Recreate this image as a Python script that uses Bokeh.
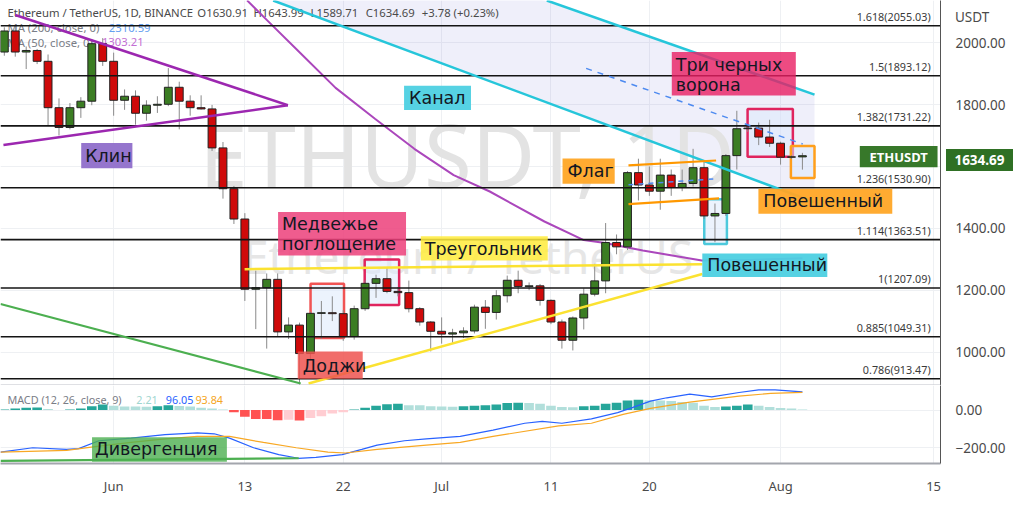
import numpy as np
from bokeh.plotting import figure
from bokeh.layouts import column
from bokeh.models import Range1d, FixedTicker, Span, ColumnDataSource, PrintfTickFormatter, Div
from bokeh.core.properties import value
from bokeh.embed import file_html
from bokeh.resources import INLINE

# ---------------- data ----------------
# day index: 0 = 1 Jun 2022 ; candles from 22 May (-10) to 3 Aug (63)
days = list(range(-10, 64))
opens = [1970, 2038, 1970, 1975, 1940, 1790, 1726, 1790, 1811, 1997,
         1940, 1814, 1827, 1772, 1798, 1801, 1856, 1811, 1790, 1786,
         1660, 1528, 1430, 1203, 1208, 1235, 1065, 1087, 995, 1125,
         1127, 1124, 1050, 1140, 1222, 1237, 1196, 1192, 1140, 1097,
         1067, 1058, 1062, 1068, 1145, 1128, 1182, 1232, 1212, 1214,
         1167, 1097, 1038, 1110, 1187, 1230, 1354, 1340, 1580, 1540,
         1520, 1572, 1532, 1545, 1596, 1440, 1448, 1635, 1722, 1724,
         1695, 1675, 1630, 1630.91]
highs = [2050, 2057, 1988, 1980, 1962, 1820, 1805, 1824, 2012, 2015,
         1968, 1849, 1846, 1814, 1827, 1918, 1874, 1830, 1830, 1799,
         1679, 1537, 1449, 1263, 1254, 1254, 1112, 1095, 1130, 1165,
         1180, 1135, 1150, 1232, 1250, 1275, 1210, 1231, 1145, 1100,
         1112, 1075, 1080, 1153, 1168, 1200, 1247, 1263, 1225, 1220,
         1170, 1105, 1115, 1206, 1285, 1417, 1380, 1585, 1625, 1600,
         1625, 1590, 1590, 1657, 1620, 1480, 1640, 1780, 1735, 1742,
         1751, 1680, 1636, 1643.99]
lows = [1958, 1955, 1915, 1931, 1732, 1700, 1720, 1757, 1798, 1925,
        1764, 1783, 1735, 1748, 1773, 1795, 1720, 1764, 1784, 1650,
        1496, 1414, 1165, 1074, 1011, 1050, 1042, 886, 975, 1042,
        1100, 1036, 1040, 1133, 1175, 1190, 1180, 1128, 1085, 1002,
        1027, 1030, 1045, 1060, 1075, 1105, 1160, 1190, 1200, 1150,
        1090, 1011, 1005, 1073, 1180, 1190, 1316, 1330, 1490, 1505,
        1460, 1505, 1520, 1535, 1430, 1355, 1440, 1590, 1712, 1669,
        1663, 1606, 1624, 1589.71]
closes = [2038, 1970, 1975, 1940, 1790, 1726, 1790, 1811, 1997, 1940,
          1814, 1827, 1772, 1798, 1801, 1856, 1811, 1790, 1786, 1660,
          1528, 1430, 1203, 1208, 1235, 1065, 1087, 995, 1125, 1127,
          1124, 1050, 1140, 1222, 1237, 1196, 1192, 1140, 1097, 1067,
          1058, 1062, 1068, 1145, 1128, 1182, 1232, 1212, 1214, 1167,
          1097, 1038, 1110, 1187, 1230, 1354, 1340, 1580, 1540, 1520,
          1572, 1532, 1545, 1596, 1440, 1448, 1635, 1722, 1724, 1695,
          1675, 1630, 1631, 1634.69]

ma50_days = [12.2, 14.0, 16.7, 20.3, 23.9, 27.5, 31.1, 34.4, 39.4, 43.0, 44.8, 48.4, 53.8, 58.5, 63.0]
ma50_vals = [2137, 2074, 1980, 1854, 1754, 1657, 1572, 1519, 1422, 1362, 1353, 1328, 1296, 1298, 1303.21]

macd_hist = [3, 8, 12, 13, 5, 0.5, 3, 8, 20, 29,
             23, 19, 19, 18, 20, 26, 22, 19, 12, 8,
             3, -12, -36, -47, -48, -54, -52, -55, -42, -33,
             -19, -12, 3, 12, 23, 31, 34, 26, 26, 20,
             19, 18, 20, 23, 26, 29, 38, 39, 38, 34,
             23, 16, 15, 20, 23, 34, 39, 51, 55, 52,
             51, 48, 42, 39, 23, 16, 19, 23, 29, 23,
             16, 11, 8, 2.21]
macd_days = [-10.35, -7.4, -4.3, -3.2, -1.35, 1.6, 4.7, 7.65, 9.2, 10.6, 12.8, 15.1, 16.9, 18.5,
             20.9, 22.7, 24.1, 26.6, 28.6, 31.7, 34.7, 37.6, 39.2, 41.0, 43.7, 46.1, 47.5, 49.1,
             50.6, 52.7, 54.7, 57.2, 59.0, 60.5, 63.0]
macd_vals = [-223, -200, -209, -205, -163, -149, -130, -121, -126, -149, -200, -237, -256, -251,
             -237, -209, -186, -163, -153, -140, -107, -70, -60, -70, -47, -14, 14, 47,
             65, 84, 70, 93, 107, 107, 96.05]
signal_days = [-10.35, -4.3, -1.35, 1.6, 4.7, 7.65, 10.6, 13.7, 16.7, 19.6, 21.2, 24.1, 28.6,
               31.7, 34.7, 40.7, 43.7, 46.6, 49.1, 52.7, 57.2, 60.1, 63.0]
signal_vals = [-223, -214, -191, -172, -153, -140, -140, -172, -200, -223, -228, -209, -186,
               -172, -140, -84, -70, -23, 9, 42, 74, 88, 93.84]

fib_ratios = ["1.618", "1.5", "1.382", "1.236", "1.114", "1", "0.885", "0.786"]
fib_prices = [2055.03, 1893.12, 1731.22, 1530.90, 1363.51, 1207.09, 1049.31, 913.47]

tick_days = [0, 12, 21, 30, 40, 49, 61, 75]
tick_labels = ["Jun", "13", "22", "Jul", "11", "20", "Aug", "15"]
price_ticks = [1000, 1200, 1400, 1600, 1800, 2000]
macd_ticks = [-200, 0]

# ---------------- layout helpers ----------------
XMIN, XMAX = -10.35, 75.63
PMIN, PMAX = 891.7, 2136.6
MMIN, MMAX = -283.7, 130.2
W, H1, H2, AXW = 1008, 385, 112, 68
FW = W - AXW

def rx(x):
    return XMIN + x * (XMAX - XMIN) / 955.0

def ry(y):
    return PMAX - y * (PMAX - PMIN) / 397.0

def rm(y):
    return MMAX - (y - 397.0) * (MMAX - MMIN) / 89.0

FONT = "Noto Sans"
LFONT = "DejaVu Sans"
TXT = "#131722"
AXC = "#4a4a4a"

p = figure(width=W, height=H1, x_range=Range1d(XMIN, XMAX), y_range=Range1d(PMIN, PMAX),
           output_backend="svg", toolbar_location=None, x_axis_location=None,
           y_axis_location="right", min_border_left=0, min_border_right=AXW,
           min_border_top=0, min_border_bottom=0)
p.outline_line_color = None
p.xgrid.ticker = FixedTicker(ticks=tick_days)
p.ygrid.ticker = FixedTicker(ticks=price_ticks)
p.xgrid.grid_line_color = "#eef0f3"
p.ygrid.grid_line_color = "#eef0f3"
ax = p.yaxis[0]
ax.ticker = FixedTicker(ticks=price_ticks)
ax.formatter = PrintfTickFormatter(format="%.2f")
ax.major_label_text_font = FONT
ax.major_label_text_font_size = "13.5px"
ax.major_label_text_color = AXC
ax.axis_line_color = "#555555"
ax.major_tick_line_color = None
ax.minor_tick_line_color = None
ax.major_label_standoff = 9

# channel fill
p.patch([rx(277), rx(827), rx(827), rx(277)], [ry(0), ry(208), ry(97), ry(-97)],
        fill_color="#7b7fd6", fill_alpha=0.12, line_color=None)

# watermark
p.text(x=[rx(474)], y=[ry(158)], text=["ETHUSDT, 1D"], text_font=value(FONT),
       text_font_size=value("87px"), text_color="#e3e3e3", text_align="center",
       text_baseline="alphabetic")
p.text(x=[rx(475)], y=[ry(263)], text=["Ethereum / TetherUS"], text_font=value(FONT),
       text_font_size=value("46px"), text_color="#e6e6e6", text_align="center",
       text_baseline="alphabetic")

# legend texts (under candles)
def ltext(fig, conv, x, y, s, color, size="11.3px"):
    fig.text(x=[rx(x)], y=[conv(y)], text=[s], text_font=value(FONT), text_font_size=value(size),
             text_color=color, text_align="left", text_baseline="middle")

ltext(p, ry, 7, 12, "Ethereum / TetherUS, 1D, BINANCE", AXC)
for s, xx in [("O1630.91", 200), ("H1643.99", 257), ("L1589.71", 315), ("C1634.69", 371),
              ("+3.78 (+0.23%)", 428)]:
    ltext(p, ry, xx, 12, s, AXC)
ltext(p, ry, 7, 28, "MA (200, close, 0)", "#7a7d86")
ltext(p, ry, 110, 28, "2310.59", "#64a0f0")
ltext(p, ry, 7, 43, "MA (50, close, 0)", "#7a7d86")
ltext(p, ry, 103, 43, "1303.21", "#c36fd4")

# boxes around candle patterns
def frame_box(x0, x1, y0, y1, color):
    p.quad(left=[rx(x0)], right=[rx(x1)], top=[ry(y0)], bottom=[ry(y1)],
           fill_color="#dce9fb", fill_alpha=0.55, line_color=color, line_width=2.5)

frame_box(315, 349, 292, 348, "#f05454")
frame_box(370, 405, 267, 314, "#e0245e")
frame_box(715, 738, 205, 251, "#4dc9dc")
frame_box(759, 805, 112, 161, "#e0245e")
frame_box(803, 827, 150, 183, "#ff9f1c")

# MA 50
p.line(ma50_days, ma50_vals, line_color="#ab47bc", line_width=2)

# candles
src = ColumnDataSource(dict(
    x=days, h=highs, l=lows,
    top=[max(o, c) for o, c in zip(opens, closes)],
    bottom=[min(o, c) for o, c in zip(opens, closes)],
    color=["#3b7d23" if c >= o else "#cf0a0a" for o, c in zip(opens, closes)]))
p.segment(x0="x", y0="h", x1="x", y1="l", source=src, line_color="#8a8a8a", line_width=1)
p.vbar(x="x", width=0.72, top="top", bottom="bottom", source=src, fill_color="color",
       line_color="#222222", line_width=1)

# fibonacci levels
p.segment(x0=[XMIN] * len(fib_prices), x1=[XMAX] * len(fib_prices), y0=fib_prices, y1=fib_prices,
          line_color="#141414", line_width=1.6)
off = 9.5 * (PMAX - PMIN) / 397.0
p.text(x=[rx(945)] * len(fib_prices), y=[v + off for v in fib_prices],
       text=[f"{r}({v:.2f})" for r, v in zip(fib_ratios, fib_prices)],
       text_font=value(FONT), text_font_size=value("10.8px"), text_color="#3a3a3a",
       text_align="right", text_baseline="middle")

# trend lines (ref pixel anchors)
def rline(fig, conv, pts, color, width, dash="solid"):
    fig.line([rx(a) for a, b in pts], [conv(b) for a, b in pts], line_color=color,
             line_width=width, line_dash=dash)

rline(p, ry, [(15, 15), (292, 108)], "#9c27b0", 2.5)
rline(p, ry, [(3, 149), (292, 108)], "#9c27b0", 2.5)
rline(p, ry, [(277, 0), (827, 208)], "#26c6da", 2.5)
rline(p, ry, [(555, 0), (827, 97)], "#26c6da", 2.5)
rline(p, ry, [(595, 70), (815, 148)], "#4d8af0", 1.5, "6 6")
rline(p, ry, [(248, 277), (713, 272)], "#fbe231", 2.5)
rline(p, ry, [(313, 395), (713, 282)], "#fbe231", 2.5)
rline(p, ry, [(638, 170), (727, 165)], "#ff9800", 2.2)
rline(p, ry, [(638, 210), (730, 204)], "#ff9800", 2.2)
rline(p, ry, [(638, 190), (725, 184)], "#4d8af0", 1.5, "5 5")
rline(p, ry, [(0, 313), (305, 395)], "#4caf50", 2.2)

# label boxes
def box_label(fig, conv, x0, x1, y0, y1, color, alpha, lines, tx, mids, size="17.5px"):
    fig.quad(left=[rx(x0)], right=[rx(x1)], top=[conv(y0)], bottom=[conv(y1)],
             fill_color=color, fill_alpha=alpha, line_color=None)
    fig.text(x=[rx(tx)] * len(lines), y=[conv(m) for m in mids], text=lines,
             text_font=value(LFONT), text_font_size=value(size), text_color=TXT,
             text_baseline="middle", text_align="left")

box_label(p, ry, 82, 134, 147, 173, "#9575cd", 1.0, ["Клин"], 86, [160])
box_label(p, ry, 410, 478, 88, 113, "#4dd0e1", 0.95, ["Канал"], 415, [100.5])
box_label(p, ry, 282, 412, 218, 263, "#ec407a", 0.85, ["Медвежье", "поглощение"], 286, [230, 251])
box_label(p, ry, 427, 556, 243, 268, "#ffeb3b", 0.85, ["Треугольник"], 431, [256])
box_label(p, ry, 302, 368, 362, 390, "#ef5350", 0.85, ["Доджи"], 307, [376.5])
box_label(p, ry, 571, 624, 163, 189, "#ffa726", 0.95, ["Флаг"], 576, [176])
box_label(p, ry, 682, 808, 53, 98, "#e91e63", 0.8, ["Три черных", "ворона"], 686, [66, 87])
box_label(p, ry, 770, 906, 194, 220, "#ffa726", 0.95, ["Повешенный"], 775, [207])
box_label(p, ry, 713, 840, 261, 285, "#4dd0e1", 0.95, ["Повешенный"], 718, [273])

# last price marker inside the pane
p.quad(left=[rx(873)], right=[rx(952)], top=[ry(150)], bottom=[ry(172)],
       fill_color="#37782a", line_color=None)
p.text(x=[rx(912.5)], y=[ry(161)], text=["ETHUSDT"], text_font=value(FONT),
       text_font_size=value("13px"), text_font_style="bold", text_color="white",
       text_align="center", text_baseline="middle")
p.add_layout(Span(location=ry(396.4), dimension="width", line_color="#c9cbd1", line_width=1))

# ---------------- MACD pane ----------------
m = figure(width=W, height=H2, x_range=p.x_range, y_range=Range1d(MMIN, MMAX),
           output_backend="svg", toolbar_location=None, y_axis_location="right",
           min_border_left=0, min_border_right=AXW, min_border_top=0, min_border_bottom=26)
m.outline_line_color = None
m.xgrid.ticker = FixedTicker(ticks=tick_days)
m.ygrid.ticker = FixedTicker(ticks=macd_ticks)
m.xgrid.grid_line_color = "#eef0f3"
m.ygrid.grid_line_color = "#eef0f3"
may = m.yaxis[0]
may.ticker = FixedTicker(ticks=macd_ticks)
may.major_label_overrides = {0: "0.00", -200: "\u2212200.00"}
may.major_label_text_font = FONT
may.major_label_text_font_size = "13.5px"
may.major_label_text_color = AXC
may.axis_line_color = "#555555"
may.major_tick_line_color = None
may.minor_tick_line_color = None
may.major_label_standoff = 9
mx = m.xaxis[0]
mx.ticker = FixedTicker(ticks=tick_days)
mx.major_label_overrides = {d: s for d, s in zip(tick_days, tick_labels)}
mx.major_label_text_font = FONT
mx.major_label_text_font_size = "13px"
mx.major_label_text_color = AXC
mx.axis_line_color = "#a3a6ad"
mx.axis_line_width = 2
mx.major_tick_line_color = None
mx.minor_tick_line_color = None
mx.major_label_standoff = 7

hist_colors = []
prev = None
for hv in macd_hist:
    if hv >= 0:
        hist_colors.append("#26a69a" if (prev is None or hv > prev) else "#b2dfdb")
    else:
        hist_colors.append("#ff5252" if (prev is None or hv < prev) else "#ffcdd2")
    prev = hv
m.vbar(x=days, top=macd_hist, bottom=0, width=0.88, fill_color=hist_colors, line_color=None)
m.line(macd_days, macd_vals, line_color="#2962ff", line_width=1.2)
m.line(signal_days, signal_vals, line_color="#f8a824", line_width=1.2)

ltext(m, rm, 7, 413, "MACD (12, 26, close, 9)", "#7a7d86", "10.8px")
ltext(m, rm, 138, 413, f"{macd_hist[-1]:.2f}", "#9fd6d0", "10.8px")
ltext(m, rm, 168, 413, f"{macd_vals[-1]:.2f}", "#2962ff", "10.8px")
ltext(m, rm, 198, 413, f"{signal_vals[-1]:.2f}", "#f5a623", "10.8px")

rline(m, rm, [(0, 483), (303, 480)], "#4caf50", 2.2)
box_label(m, rm, 93, 230, 456, 484, "#4caf50", 0.8, ["Дивергенция"], 96, [470])

# axis-side labels (outside the plotting frame) as positioned HTML text
lbl_top = round((PMAX - closes[-1]) / (PMAX - PMIN) * H1) - 11
price_div = Div(text=f"{closes[-1]:.2f}", width=W - FW - 1, height=22,
                styles={"position": "absolute", "left": f"{FW + 1}px", "top": f"{lbl_top}px",
                        "background-color": "#2f7024", "color": "white",
                        "font-family": "Noto Sans", "font-weight": "bold", "font-size": "13.5px",
                        "line-height": "22px", "text-align": "center"})
usdt_div = Div(text="USDT", width=55, height=18,
               styles={"position": "absolute", "left": f"{FW + 10}px", "top": "3px",
                       "font-family": "Noto Sans", "font-size": "13.5px", "color": AXC,
                       "line-height": "18px"})

layout = column(p, m, price_div, usdt_div, spacing=0)
open("out.html", "w").write(file_html(layout, INLINE))
